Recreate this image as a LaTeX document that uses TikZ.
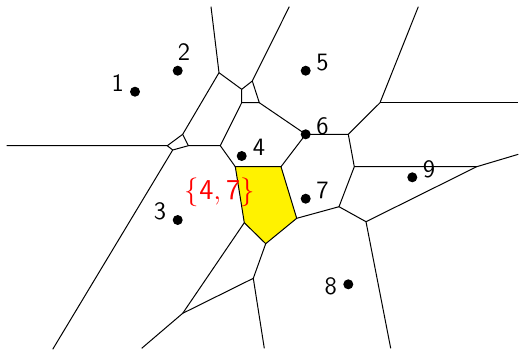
\documentclass[tikz,border=0pt]{standalone}
\usepackage{amsmath}
\usepackage{xcolor}
\usepackage{tikz}
\usetikzlibrary{positioning}

\begin{document}
\begin{tikzpicture}[
  x=0.5pt, y=-0.5pt,
  font=\fontsize{12.5}{15}\selectfont\sffamily,
  site/.style={circle, fill=black, inner sep=0pt, minimum size=5pt},
  lbl/.style={inner sep=0pt, anchor=center},
  edge/.style={line width=0.5pt, black}
]
\useasboundingbox (0,0) rectangle (519,350);
% sites
\node[site] (s1) at (135,91.7) {};
\node[site] (s2) at (177.7,70.7) {};
\node[site] (s3) at (177.7,220) {};
\node[site] (s4) at (241.7,156) {};
\node[site] (s5) at (305.7,70.7) {};
\node[site] (s6) at (305.7,134.3) {};
\node[site] (s7) at (305.7,198.7) {};
\node[site] (s8) at (348.3,284.3) {};
\node[site] (s9) at (412.3,177.3) {};
\node[lbl] (l1) at (117.7,83.3) {1};
\node[lbl] (l2) at (184,51.7) {2};
\node[lbl] (l3) at (160,211.7) {3};
\node[lbl] (l4) at (259,147.7) {4};
\node[lbl] (l5) at (322.5,63) {5};
\node[lbl] (l6) at (322.5,126.7) {6};
\node[lbl] (l7) at (322.5,190) {7};
\node[lbl] (l8) at (330.8,286) {8};
\node[lbl] (l9) at (429,169.7) {9};
% voronoi vertices
\coordinate (v1) at (219,72.7);
\coordinate (v2) at (241.7,89.3);
\coordinate (v3) at (252.3,81);
\coordinate (v4) at (241.7,102.7);
\coordinate (v5) at (259.3,102.7);
\coordinate (v6) at (305.7,134.3);
\coordinate (v7) at (348.3,134.3);
\coordinate (v8) at (380,102.7);
\coordinate (v9) at (354.3,166.7);
\coordinate (v10) at (476.7,166.7);
\coordinate (v11) at (339,206.7);
\coordinate (v12) at (366,221.7);
\coordinate (v13) at (220.3,145.7);
\coordinate (v14) at (188.3,145.7);
\coordinate (v15) at (182.7,134.3);
\coordinate (v16) at (167.3,145.7);
\coordinate (v17) at (172.7,150);
\coordinate (v18) at (182.7,313.3);
\coordinate (v19) at (253.3,278.3);
% highlighted cell
\coordinate (y1) at (235.3,166.7);
\coordinate (y2) at (281,166.7);
\coordinate (y3) at (296.7,218.3);
\coordinate (y4) at (265.7,243.7);
\coordinate (y5) at (244.3,222.7);
% unbounded ends
\coordinate (b1) at (211,6.7);
\coordinate (b2) at (289.3,6.7);
\coordinate (b3) at (418.3,6.7);
\coordinate (b4) at (518.3,102.7);
\coordinate (b5) at (518.3,154.3);
\coordinate (b6) at (390.7,348.3);
\coordinate (b7) at (264.3,348.3);
\coordinate (b8) at (141.7,348.3);
\coordinate (b9) at (52.7,349.3);
\coordinate (b10) at (6.7,145.7);
\draw[edge, fill=yellow] (y1) -- (y2) -- (y3) -- (y4) -- (y5) -- cycle;
\draw[edge] (b1) -- (v1) -- (v2) -- (v3) -- (b2);
\draw[edge] (v2) -- (v4) -- (v5) -- (v3);
\draw[edge] (v5) -- (v6) -- (v7) -- (v8) -- (b3);
\draw[edge] (v8) -- (b4);
\draw[edge] (v7) -- (v9) -- (v10) -- (b5);
\draw[edge] (v10) -- (v12) -- (b6);
\draw[edge] (v9) -- (v11) -- (v12);
\draw[edge] (v11) -- (y3);
\draw[edge] (y2) -- (v6);
\draw[edge] (y1) -- (v13) -- (v4);
\draw[edge] (v13) -- (v14) -- (v15) -- (v1);
\draw[edge] (v15) -- (v16) -- (b10);
\draw[edge] (v16) -- (v17) -- (v14);
\draw[edge] (v17) -- (b9);
\draw[edge] (y5) -- (v18) -- (b8);
\draw[edge] (v18) -- (v19) -- (b7);
\draw[edge] (y4) -- (v19);
\node[lbl, text=red, font=\fontsize{14}{16}\selectfont] (cell) at (219.8,192.5) {$\{\mathsf{4},\mathsf{7}\}$};
\end{tikzpicture}
\end{document}
